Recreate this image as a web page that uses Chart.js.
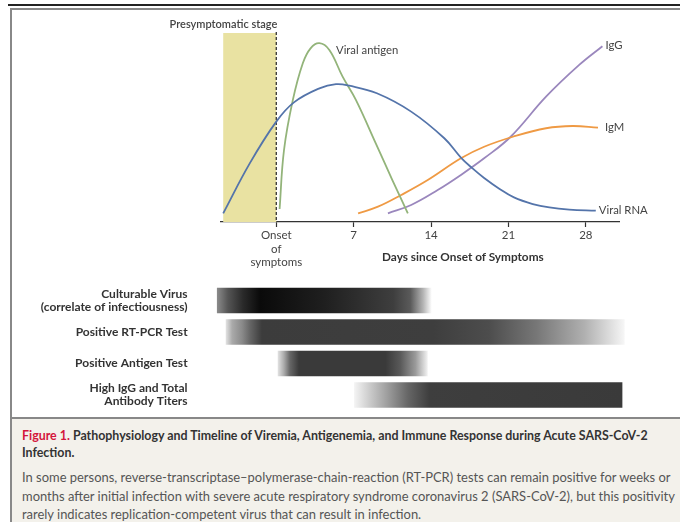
<!DOCTYPE html>
<html>
<head>
<meta charset="utf-8">
<script src="https://cdn.jsdelivr.net/npm/chart.js@4.4.1/dist/chart.umd.min.js"></script>
<style>
body { margin:0; width:680px; height:522px; overflow:hidden; background:#fff; font-family:Lato, "Noto Sans", sans-serif; color:#333; position:relative; }
.ln { position:absolute; }
canvas { position:absolute; left:0; }
#curves { top:0; }
#bars { top:270px; }
#xtitle { position:absolute; left:382px; top:249px; font-size:11.8px; font-weight:700; color:#333; white-space:nowrap; }
#cap { position:absolute; left:12px; top:419px; width:668px; height:103px; background:#f3f1eb; }
#cap .t { position:absolute; left:10px; top:8px; font-size:12.4px; font-weight:700; line-height:17px; color:#333; white-space:nowrap; }
#cap .t .fig { color:#d4163c; }
#cap .b { position:absolute; left:10px; top:49px; font-size:12.95px; line-height:18.5px; color:#555; white-space:nowrap; }
</style>
</head>
<body>
<div class="ln" style="left:8px;top:4px;width:672px;height:2px;background:#222"></div>
<div class="ln" style="left:10px;top:8px;width:670px;height:2px;background:#888"></div>
<div class="ln" style="left:10px;top:8px;width:2px;height:514px;background:#888"></div>
<div class="ln" style="left:10px;top:417px;width:670px;height:2px;background:#888"></div>
<canvas id="curves" width="680" height="280"></canvas>
<canvas id="bars" width="680" height="150"></canvas>
<div id="xtitle">Days since Onset of Symptoms</div>
<div id="cap">
<div class="t"><span class="fig">Figure 1.</span> Pathophysiology and Timeline of Viremia, Antigenemia, and Immune Response during Acute SARS-CoV-2<br>Infection.</div>
<div class="b">In some persons, reverse-transcriptase–polymerase-chain-reaction (RT-PCR) tests can remain positive for weeks or<br>months after initial infection with severe acute respiratory syndrome coronavirus 2 (SARS-CoV-2), but this positivity<br>rarely indicates replication-competent virus that can result in infection.</div>
</div>
<script>
// x axis
var dayTicks = [0, 7, 14, 21, 28];
var dayTickLabels = [['Onset', 'of', 'symptoms'], '7', '14', '21', '28'];
var presymptomatic = [-4.8, 0];

// curves (days since onset, relative level)
var rnaDays = [-4.8, -2.4, 0, 1.6, 3.9, 5.4, 6.6, 9.1, 12.2, 15.2, 16.7, 17.7, 18.8, 20.2, 21.5, 23.2, 24.7, 26.5, 28.9];
var rnaLevel = [4.6, 31, 53.1, 63.3, 70.7, 72.9, 72.1, 68.1, 58.4, 44.3, 34.1, 28.6, 23.3, 17.5, 13.0, 9.5, 7.7, 6.6, 6.0];
var antigenDays = [0.3, 0.7, 1.5, 2.4, 3.1, 3.9, 4.8, 6.0, 7.2, 9.0, 10.5, 11.9];
var antigenLevel = [6.9, 38.1, 64.6, 84, 91.9, 94.6, 91, 76.9, 64.6, 41.6, 22.2, 4.6];
var igmDays = [7.4, 9.2, 11.3, 13.7, 16.7, 18.8, 21.4, 24.4, 26.8, 29.1];
var igmLevel = [4.6, 8.1, 14.3, 22.2, 33.7, 39.8, 45.1, 49.6, 50.8, 49.9];
var iggDays = [10.1, 12.2, 14.6, 16.7, 18.8, 21.2, 24.4, 27.4, 29.5];
var iggLevel = [4.6, 9, 16.9, 24.9, 33.7, 45.1, 66.3, 83.1, 93];

// test positivity windows
var testNames = [['Culturable Virus', '(correlate of infectiousness)'], 'Positive RT-PCR Test', 'Positive Antigen Test', ['High IgG and Total', 'Antibody Titers']];
var testStart = [-5.4, -4.6, 0.1, 7.0];
var testEnd = [14.0, 31.4, 13.6, 31.2];

Chart.defaults.font.family = 'Lato, "Noto Sans", sans-serif';
Chart.defaults.color = '#333';

function pts(xs, ys) {
	return xs.map(function(x, i) { return { x: x, y: ys[i] }; });
}
function line(label, xs, ys, color) {
	return { label: label, data: pts(xs, ys), borderColor: color, borderWidth: 1.8,
		pointRadius: 0, tension: 0.4, fill: false };
}

// label next to each curve: offset from its last point, or a fixed data point
var curveLabels = [
	{ ds: 0, text: 'Viral RNA', dx: 3, dy: 0 },
	{ ds: 1, text: 'Viral antigen', at: [5.4, 91] },
	{ ds: 2, text: 'IgM', dx: 7, dy: 0 },
	{ ds: 3, text: 'IgG', dx: 3, dy: -1 }
];

var decor = {
	id: 'decor',
	beforeDatasetsDraw: function(chart) {
		var c = chart.ctx, x = chart.scales.x, a = chart.chartArea;
		var x0 = x.getPixelForValue(presymptomatic[0]), x1 = x.getPixelForValue(presymptomatic[1]);
		c.save();
		c.fillStyle = '#e9e2a2';
		c.fillRect(x0, a.top, x1 - x0, a.bottom - a.top);
		c.strokeStyle = '#333';
		c.lineWidth = 1.3;
		c.setLineDash([3, 2]);
		c.beginPath();
		c.moveTo(x1, a.top - 1);
		c.lineTo(x1, a.bottom);
		c.stroke();
		c.setLineDash([]);
		c.font = '600 11px Lato, "Noto Sans", sans-serif';
		c.fillStyle = '#444';
		c.textAlign = 'right';
		c.textBaseline = 'middle';
		c.fillText('Presymptomatic stage', x1 + 1, a.top - 9);
		c.restore();
	},
	afterDatasetsDraw: function(chart) {
		var c = chart.ctx, x = chart.scales.x, y = chart.scales.y;
		c.save();
		c.font = '11.3px Lato, "Noto Sans", sans-serif';
		c.fillStyle = '#444';
		c.textAlign = 'left';
		c.textBaseline = 'middle';
		curveLabels.forEach(function(l) {
			var px, py;
			if (l.at) {
				px = x.getPixelForValue(l.at[0]); py = y.getPixelForValue(l.at[1]);
			} else {
				var d = chart.data.datasets[l.ds].data;
				var p = d[d.length - 1];
				px = x.getPixelForValue(p.x) + l.dx; py = y.getPixelForValue(p.y) + l.dy;
			}
			c.fillText(l.text, px, py);
		});
		c.restore();
	}
};

new Chart(document.getElementById('curves'), {
	type: 'line',
	data: {
		datasets: [
			line('Viral RNA', rnaDays, rnaLevel, '#5474aa'),
			line('Viral antigen', antigenDays, antigenLevel, '#93b47a'),
			line('IgM', igmDays, igmLevel, '#ef9a44'),
			line('IgG', iggDays, iggLevel, '#9a87bd')
		]
	},
	options: {
		responsive: false,
		animation: false,
		layout: { padding: { left: 221, right: 61, top: 33, bottom: 0 } },
		plugins: { legend: { display: false }, tooltip: { enabled: false } },
		scales: {
			x: {
				type: 'linear', min: -5, max: 31,
				afterBuildTicks: function(s) { s.ticks = dayTicks.map(function(v) { return { value: v }; }); },
				afterFit: function(s) { s.height = 58; },
				ticks: {
					padding: 2,
					font: { size: 11.5, lineHeight: 1.15 },
					color: '#444',
					callback: function(v) { return dayTickLabels[dayTicks.indexOf(v)]; }
				},
				grid: { drawOnChartArea: false, drawTicks: true, tickLength: 5, tickColor: '#333', tickWidth: 1.2 },
				border: { color: '#333', width: 1.3 }
			},
			y: { display: false, min: 0, max: 100 }
		}
	},
	plugins: [decor]
});

// grey shading along each bar: [position 0..1, colour]
var shading = [
	[[0, '#8a8a8a'], [0.05, '#555'], [0.12, '#2a2a2a'], [0.2, '#0a0a0a'], [0.5, '#1f1f1f'], [0.82, '#3e3e3e'], [0.9, '#5a5a5a'], [0.96, '#b5b5b5'], [1, '#ffffff']],
	[[0, '#e0e0e0'], [0.015, '#aaa'], [0.04, '#8a8a8a'], [0.06, '#666'], [0.09, '#3c3c3c'], [0.52, '#3e3e3e'], [0.66, '#4d4d4d'], [0.78, '#777'], [0.9, '#b0b0b0'], [1, '#f6f6f6']],
	[[0, '#e0e0e0'], [0.04, '#aaa'], [0.08, '#666'], [0.14, '#3a3a3a'], [0.72, '#3a3a3a'], [0.82, '#5a5a5a'], [0.92, '#9a9a9a'], [1, '#f0f0f0']],
	[[0, '#f4f4f4'], [0.05, '#d0d0d0'], [0.12, '#a0a0a0'], [0.2, '#666'], [0.28, '#3e3e3e'], [1, '#3a3a3a']]
];

function barFill(ctx) {
	var chart = ctx.chart;
	if (!chart.chartArea || ctx.dataIndex === undefined) return '#3a3a3a';
	var x = chart.scales.x;
	var x0 = x.getPixelForValue(testStart[ctx.dataIndex]), x1 = x.getPixelForValue(testEnd[ctx.dataIndex]);
	var g = chart.ctx.createLinearGradient(x0, 0, x1, 0);
	shading[ctx.dataIndex].forEach(function(s) { g.addColorStop(s[0], s[1]); });
	return g;
}

new Chart(document.getElementById('bars'), {
	type: 'bar',
	data: {
		labels: testNames,
		datasets: [{
			data: testStart.map(function(s, i) { return [s, testEnd[i]]; }),
			backgroundColor: barFill,
			borderWidth: 0,
			borderSkipped: false,
			barThickness: 25
		}]
	},
	options: {
		indexAxis: 'y',
		responsive: false,
		animation: false,
		layout: { padding: { left: 10.6, right: 49.1, top: 14.75, bottom: 9.25 } },
		plugins: { legend: { display: false }, tooltip: { enabled: false } },
		scales: {
			x: { type: 'linear', min: -6, max: 32, display: false },
			y: {
				afterFit: function(s) { s.width = 200; s.paddingTop = 0; s.paddingBottom = 0; },
				grid: { display: false, drawTicks: false },
				border: { display: false },
				ticks: { padding: 23, color: '#333', font: { size: 12, weight: '700', lineHeight: 1.08 } }
			}
		}
	}
});
</script>
</body>
</html>
